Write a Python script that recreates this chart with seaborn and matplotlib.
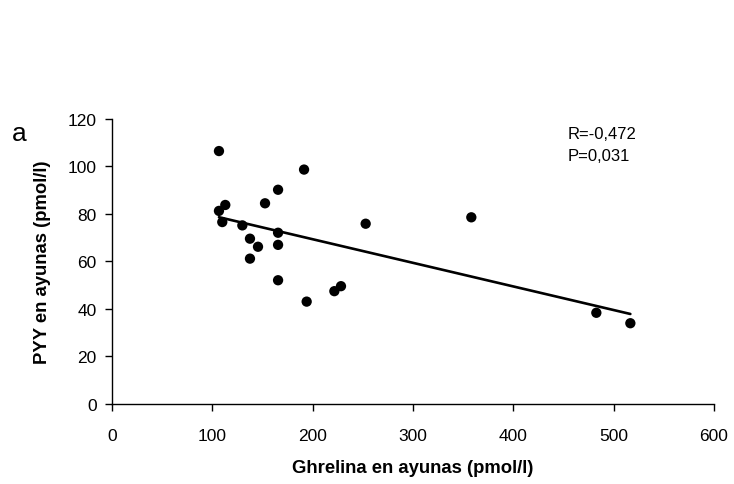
import numpy as np
import pandas as pd
from matplotlib import pyplot as plt
import seaborn as sns

# fasting ghrelin (x) vs fasting PYY (y), pmol/l
ghrelina = [106.6, 106.6, 112.9, 109.9, 129.9, 137.5, 145.5, 137.5, 152.5,
            165.5, 165.5, 165.5, 165.5, 191.4, 194.0, 221.6, 228.2, 252.8,
            358.1, 482.7, 516.6]
pyy = [106.5, 81.3, 83.8, 76.6, 75.2, 69.6, 66.2, 61.2, 84.5,
       90.2, 72.1, 67.0, 52.1, 98.7, 43.1, 47.5, 49.6, 75.9,
       78.6, 38.4, 34.0]
x_ticks = [0, 100, 200, 300, 400, 500, 600]
y_ticks = [0, 20, 40, 60, 80, 100, 120]

df = pd.DataFrame({"ghrelina": ghrelina, "pyy": pyy})

sns.set_style("white")
plt.rcParams['font.family'] = ['Liberation Sans', 'DejaVu Sans']
plt.rcParams.update({"text.color": "black", "axes.labelcolor": "black",
                     "xtick.color": "black", "ytick.color": "black"})

fig = plt.figure(figsize=(7.34, 4.85), dpi=100)
ax = fig.add_axes([0.1526, 0.165, 0.8202, 0.5876])

sns.regplot(data=df, x="ghrelina", y="pyy", ci=None, ax=ax,
            scatter_kws={"s": 55, "color": "black", "edgecolor": "none", "alpha": 1},
            line_kws={"color": "black", "linewidth": 1.9})

ax.set_xlim(0, 600)
ax.set_ylim(0, 120)
ax.set_xticks(x_ticks)
ax.set_yticks(y_ticks)
ax.tick_params(axis="both", direction="out", length=5, width=1, color="black",
               labelcolor="black", labelsize=12.5, bottom=True, left=True)
ax.tick_params(axis="x", pad=12)
ax.tick_params(axis="y", pad=6)
for side in ["top", "right"]:
    ax.spines[side].set_visible(False)
for side in ["left", "bottom"]:
    ax.spines[side].set_color("black")
    ax.spines[side].set_linewidth(1)

ax.set_xlabel("Ghrelina en ayunas (pmol/l)", fontsize=13.3, fontweight="bold", labelpad=12)
ax.set_ylabel("PYY en ayunas (pmol/l)", fontsize=13.3, fontweight="bold", labelpad=12)

ax.text(0.757, 0.975, "R=-0,472\nP=0,031", transform=ax.transAxes, fontsize=12,
        va="top", ha="left", linespacing=1.6)
fig.text(0.016, 0.71, "a", fontsize=19)

fig.savefig("out.png", dpi=100)
